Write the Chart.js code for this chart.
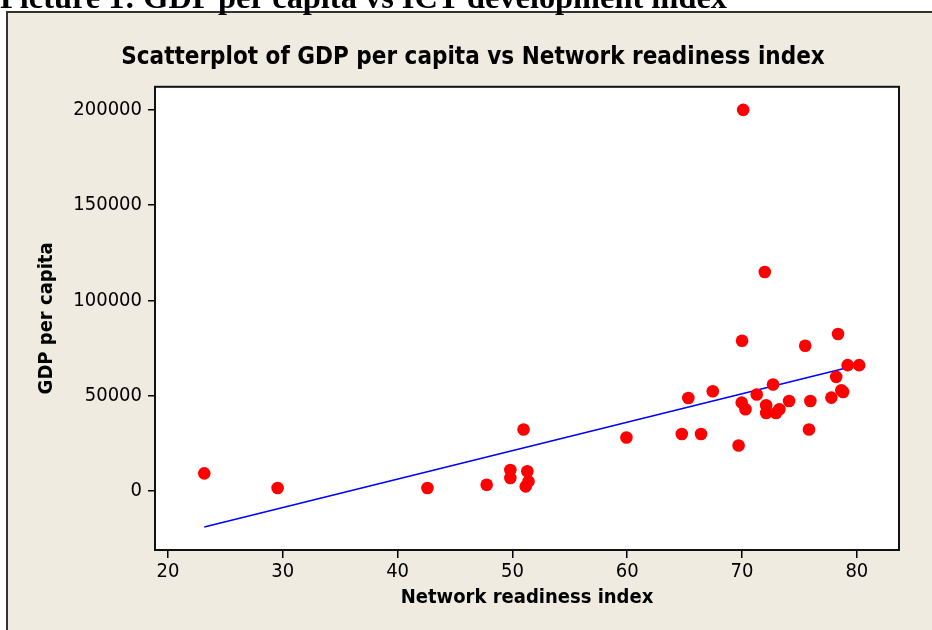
<!DOCTYPE html>
<html>
<head>
<meta charset="utf-8">
<script src="https://cdn.jsdelivr.net/npm/chart.js@4.4.1/dist/chart.umd.min.js"></script>
<style>
  html, body { margin: 0; padding: 0; background: #fff; overflow: hidden; }
  #heading {
    position: absolute; left: 0; top: -19px; z-index: 3;
    font: bold 32.4px "Liberation Serif", "Times New Roman", serif;
    line-height: 32px; white-space: nowrap; color: #000;
  }
  #panel {
    position: absolute; left: 6px; top: 11px; width: 940px; height: 640px;
    background: #efebe1; border-left: 2px solid #333; border-top: 2px solid #333;
    z-index: 1;
  }
  #chart { position: absolute; left: 0; top: 0; z-index: 2; }
</style>
</head>
<body>
<div id="heading">Picture 1: GDP per capita vs ICT development index</div>
<div id="panel"></div>
<canvas id="chart" width="932" height="630"></canvas>
<script>
// Network readiness index (x) and GDP per capita (y)
const readiness = [
  23.16, 29.55, 42.6, 47.76, 49.82, 49.82, 50.97, 51.3, 51.4, 51.16,
  59.93, 64.75, 66.43, 69.7, 65.32, 67.45, 69.97, 70.3, 71.28, 72.7,
  72.1, 72.1, 72.96, 73.25, 74.1, 75.95, 75.83, 77.78, 78.65, 78.8,
  78.2, 79.2, 80.2, 78.36, 75.5, 70.0, 71.98, 70.1
];
const gdp = [
  9130, 1420, 1420, 3170, 10900, 6700, 32190, 10190, 4900, 2270,
  27970, 29800, 29800, 23750, 48700, 52240, 46280, 42750, 50500, 55780,
  44860, 40800, 40800, 42750, 47130, 47130, 32190, 48900, 52770, 51880,
  59800, 65960, 65960, 82300, 76150, 78800, 114900, 200000
];

// fitted line end points
const fitX = [23.16, 80.2];
const fitY = [-19050, 66120];

const xTicks = [20, 30, 40, 50, 60, 70, 80];
const yTicks = [0, 50000, 100000, 150000, 200000];

const points = readiness.map((x, i) => ({ x: x, y: gdp[i] }));
const fitLine = fitX.map((x, i) => ({ x: x, y: fitY[i] }));

const family = "'DejaVu Sans Condensed', 'DejaVu Sans', sans-serif";
const tickFont = { family: family, size: 20 };
const boldFont = { family: family, size: 20, weight: 'bold' };

const plotFrame = {
  id: 'plotFrame',
  beforeDraw(chart) {
    const a = chart.chartArea, ctx = chart.ctx;
    ctx.save();
    ctx.fillStyle = '#ffffff';
    ctx.fillRect(a.left, a.top, a.right - a.left, a.bottom - a.top);
    ctx.restore();
  },
  afterDraw(chart) {
    const a = chart.chartArea, ctx = chart.ctx;
    ctx.save();
    ctx.strokeStyle = '#111';
    ctx.lineWidth = 2;
    ctx.strokeRect(a.left, a.top, a.right - a.left, a.bottom - a.top);
    ctx.restore();
  }
};

new Chart(document.getElementById('chart').getContext('2d'), {
  type: 'scatter',
  data: {
    datasets: [
      {
        label: 'GDP per capita',
        data: points,
        backgroundColor: '#ff0000',
        borderWidth: 0,
        pointRadius: 6.3,
        order: 0
      },
      {
        type: 'line',
        label: 'Fit',
        data: fitLine,
        borderColor: '#0000ff',
        borderWidth: 1.6,
        pointRadius: 0,
        fill: false,
        order: 1
      }
    ]
  },
  options: {
    responsive: false,
    animation: false,
    devicePixelRatio: 1,
    // left padding keeps the chart title centred where the reference has it
    layout: { padding: { left: 47, right: 33, top: 0, bottom: 0 } },
    plugins: {
      legend: { display: false },
      tooltip: { enabled: false },
      title: {
        display: true,
        text: 'Scatterplot of GDP per capita vs Network readiness index',
        color: '#000',
        font: { family: family, size: 24, weight: 'bold' },
        padding: { top: 43, bottom: 15 }
      }
    },
    scales: {
      x: {
        type: 'linear',
        min: 18.87,
        max: 83.67,
        afterBuildTicks: s => { s.ticks = xTicks.map(v => ({ value: v })); },
        afterFit: s => { s.height = 80; },
        grid: { drawOnChartArea: false, drawTicks: true, tickLength: 8, color: '#000', lineWidth: 1.5 },
        border: { display: false },
        ticks: { color: '#000', font: tickFont, padding: 2, maxRotation: 0 },
        title: { display: true, text: 'Network readiness index', color: '#000', font: boldFont, padding: { top: 0, bottom: 20 } }
      },
      y: {
        type: 'linear',
        min: -31135,
        max: 212137,
        afterBuildTicks: s => { s.ticks = yTicks.map(v => ({ value: v })); },
        afterFit: s => { s.width = 108; },
        grid: { drawOnChartArea: false, drawTicks: true, tickLength: 7, color: '#000', lineWidth: 1.5 },
        border: { display: false },
        ticks: { color: '#000', font: tickFont, padding: 6, callback: v => String(v) },
        title: { display: true, text: 'GDP per capita', color: '#000', font: boldFont, padding: { top: -12, bottom: 0 } }
      }
    }
  },
  plugins: [plotFrame]
});
</script>
</body>
</html>
